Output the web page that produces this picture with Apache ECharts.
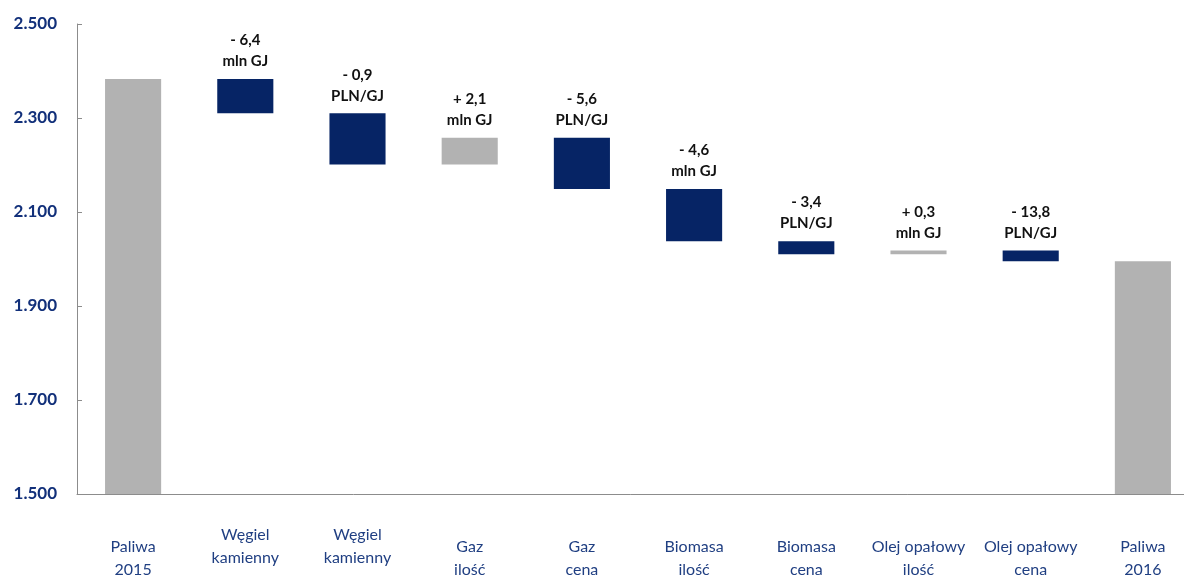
<!DOCTYPE html>
<html>
<head>
<meta charset="utf-8">
<script src="https://cdn.jsdelivr.net/npm/echarts@6/dist/echarts.min.js"></script>
<style>html,body{margin:0;padding:0;background:#fff}#c{width:1184px;height:575px}</style>
</head>
<body>
<div id="c"></div>
<script>
const categories = ['Paliwa\n2015', 'Węgiel\nkamienny\nilość', 'Węgiel\nkamienny\ncena', 'Gaz\nilość', 'Gaz\ncena', 'Biomasa\nilość', 'Biomasa\ncena', 'Olej opałowy\nilość', 'Olej opałowy\ncena', 'Paliwa\n2016'];
const kinds = ['total', 'delta', 'delta', 'delta', 'delta', 'delta', 'delta', 'delta', 'delta', 'total'];
const values = [2383, -73, -109, 57, -109, -111, -28, 8, -23, 1995];
const changeLabels = ['', '- 6,4\nmln GJ', '- 0,9\nPLN/GJ', '+ 2,1\nmln GJ', '- 5,6\nPLN/GJ', '- 4,6\nmln GJ', '- 3,4\nPLN/GJ', '+ 0,3\nmln GJ', '- 13,8\nPLN/GJ', ''];
const yTicks = { min: 1500, max: 2500, interval: 200 };

const GRAY = '#b2b2b2', NAVY = '#062465';
let running = 0;
const baseData = [], barData = [];
values.forEach((v, i) => {
  if (kinds[i] === 'total') {
    running = v;
    baseData.push(0);
    barData.push({ value: v, itemStyle: { color: GRAY } });
  } else {
    const start = running, end = running + v;
    running = end;
    baseData.push(Math.min(start, end));
    barData.push({ value: Math.abs(v), itemStyle: { color: v < 0 ? NAVY : GRAY },
      label: { show: true, formatter: changeLabels[i] } });
  }
});

const chart = echarts.init(document.getElementById('c'), null, { renderer: 'canvas' });
chart.setOption({
  animation: false,
  grid: { left: 77, right: -15, top: 24, bottom: 81, containLabel: false, outerBoundsMode: 'none' },
  xAxis: {
    type: 'category', data: categories,
    axisLine: { lineStyle: { color: '#8c8c8c', width: 1 } },
    axisTick: { show: false },
    axisLabel: { interval: 0, color: '#203f82', fontFamily: 'Lato', fontSize: 16, lineHeight: 23,
      verticalAlign: 'middle', margin: 64 }
  },
  yAxis: {
    type: 'value', min: yTicks.min, max: yTicks.max, interval: yTicks.interval,
    axisLine: { show: true, lineStyle: { color: '#8c8c8c', width: 1 } },
    axisTick: { show: true, inside: true, length: 5, lineStyle: { color: '#8c8c8c' } },
    splitLine: { show: false },
    axisLabel: { color: '#12307a', fontFamily: 'Lato', fontWeight: 'bold', fontSize: 17, margin: 20,
      formatter: v => String(v).replace(/\B(?=(\d{3})+$)/g, '.') }
  },
  series: [
    { type: 'bar', stack: 'w', data: baseData, itemStyle: { color: 'transparent' }, barWidth: '50%', silent: true },
    { type: 'bar', stack: 'w', data: barData, barWidth: '50%',
      label: { show: false, position: 'top', distance: 7, color: '#111', fontFamily: 'Lato',
        fontWeight: 'bold', fontSize: 15, lineHeight: 21 } }
  ]
});
</script>
</body>
</html>
